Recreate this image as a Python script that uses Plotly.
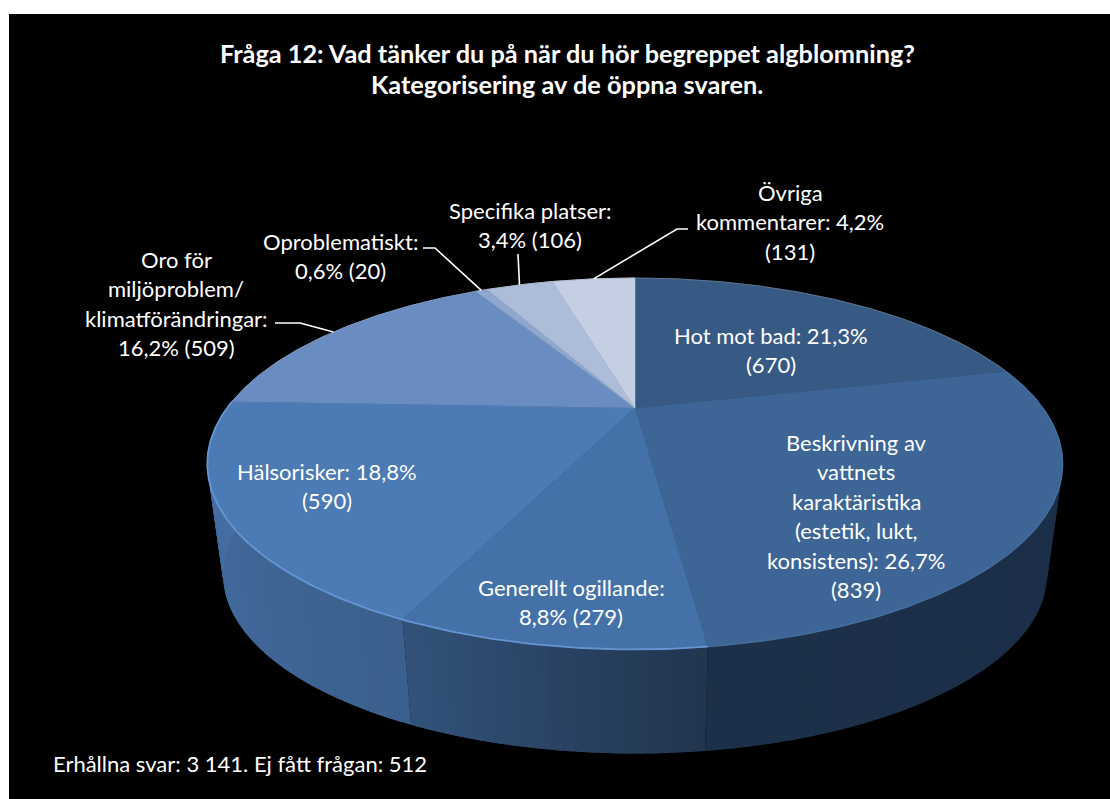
import numpy as np
import plotly.graph_objects as go

# ---------- data ----------
categories = ["Hot mot bad", "Beskrivning av vattnets karaktäristika", "Generellt ogillande",
              "Hälsorisker", "Oro för miljöproblem/klimatförändringar", "Oproblematiskt",
              "Specifika platser", "Övriga kommentarer"]
percent = [21.3, 26.7, 8.8, 18.8, 16.2, 0.6, 3.4, 4.2]
counts = [670, 839, 279, 590, 509, 20, 106, 131]

title_lines = ["Fråga 12: Vad tänker du på när du hör begreppet algblomning?",
               "Kategorisering av de öppna svaren."]
footer = "Erhållna svar: 3 141. Ej fått frågan: 512"
label_lines = [
    ["Hot mot bad: 21,3%", "(670)"],
    ["Beskrivning av", "vattnets", "karaktäristika", "(estetik, lukt,", "konsistens): 26,7%", "(839)"],
    ["Generellt ogillande:", "8,8% (279)"],
    ["Hälsorisker: 18,8%", "(590)"],
    ["Oro för", "miljöproblem/", "klimatförändringar:", "16,2% (509)"],
    ["Oproblematiskt:", "0,6% (20)"],
    ["Specifika platser:", "3,4% (106)"],
    ["Övriga", "kommentarer: 4,2%", "(131)"],
]

# ---------- styles / layout ----------
top_colors = ["#375a85", "#3d6596", "#4472a8", "#4b7ab5", "#6a8dc1", "#8fa6cf", "#adbdd9", "#c5cfe3"]
side_from = ["#1b2d47", "#1b2d47", "#223650", "#3b608d", "#4670a6", "#4670a6", "#4670a6", "#4670a6"]
side_to = ["#1b2d47", "#1d3049", "#32527a", "#4670a6", "#4670a6", "#4670a6", "#4670a6", "#4670a6"]
rim_colors = ["#5f7590", "#47709f", "#6596d3", "#6596d3", "#7f97bd", "#9aa8c4", "#aab6cc", "#b5bfd2"]
rim_widths = [1.0, 1.2, 1.8, 1.8, 1.0, 1.0, 1.0, 1.0]
label_anchor = [(771, 335), (856, 442), (571, 587), (327, 471), (176, 259), (340, 241), (530, 210), (790, 192)]
LINE_STEP = 29.5
leader_elbows = {4: [(275, 323), (300, 323)], 5: [(423, 248), (435, 248)],
                 6: [(518, 254), (518, 254)], 7: [(688, 229), (677, 229)]}
CX, CY, A, B, K = 635, 408, 408, 169, 0.30
BOTTOM_SCALE, BOTTOM_CY = 0.963, 521
FONT = "Lato, Carlito, Calibri, sans-serif"
LABEL_SIZE = 22
TITLE_SIZE = 25.3
OVERLAP = np.radians(1.0)


def project(theta, scale=1.0, cy=CY):
    u, v = np.sin(theta), np.cos(theta)
    w = 1 + K * v
    return CX + scale * A * u / w, cy - scale * B * v / w


def mix(c1, c2, t):
    a = [int(c1[i:i + 2], 16) for i in (1, 3, 5)]
    b = [int(c2[i:i + 2], 16) for i in (1, 3, 5)]
    return "#" + "".join(f"{round(p + (q - p) * t):02x}" for p, q in zip(a, b))


edges = np.concatenate([[0], np.cumsum(percent)]) / sum(percent) * 2 * np.pi

fig = go.Figure()

# side wall, painted as thin strips per slice (only the front half can show)
for i in range(len(percent)):
    t0, t1 = max(edges[i], np.pi / 2), min(edges[i + 1], 3 * np.pi / 2)
    if t1 <= t0:
        continue
    n = max(2, int((t1 - t0) / np.radians(1.2)))
    steps = np.linspace(t0, t1, n + 1)
    for j in range(n):
        end = min(steps[j + 1] + OVERLAP, t1)
        tt = np.linspace(steps[j], end, 3)
        xt, yt = project(tt)
        xb, yb = project(tt[::-1], BOTTOM_SCALE, BOTTOM_CY)
        col = mix(side_from[i], side_to[i], j / max(1, n - 1))
        fig.add_trace(go.Scatter(x=np.r_[xt, xb, xt[0]], y=np.r_[yt, yb, yt[0]], mode="none", fill="toself",
                                 fillcolor=col, hoverinfo="skip", showlegend=False))

# top face
for i, name in enumerate(categories):
    tt = np.linspace(edges[i], edges[i + 1], max(4, int(percent[i] * 6)))
    x, y = project(tt)
    fig.add_trace(go.Scatter(x=np.r_[CX, x, CX], y=np.r_[CY, y, CY], mode="lines", fill="toself",
                             fillcolor=top_colors[i], line=dict(color=top_colors[i], width=0.5),
                             name=name, text=f"{name}: {percent[i]}% ({counts[i]})", hoverinfo="text",
                             showlegend=False))

# bevelled rim
for i in range(len(percent)):
    tt = np.linspace(edges[i], edges[i + 1], max(4, int(percent[i] * 6)))
    x, y = project(tt)
    fig.add_trace(go.Scatter(x=x, y=y, mode="lines", line=dict(color=rim_colors[i], width=rim_widths[i]),
                             hoverinfo="skip", showlegend=False))

# leader lines: from the rim at each slice's middle to the label elbow
for i, elbow in leader_elbows.items():
    x, y = project((edges[i] + edges[i + 1]) / 2)
    fig.add_trace(go.Scatter(x=[p[0] for p in elbow] + [x], y=[p[1] for p in elbow] + [y], mode="lines",
                             line=dict(color="white", width=1.6), hoverinfo="skip", showlegend=False))

ann = []
def put(text, x, y, size=LABEL_SIZE, bold=False, anchor="center"):
    ann.append(dict(text=f"<b>{text}</b>" if bold else text, x=x, y=y, xref="x", yref="y", showarrow=False,
                    xanchor=anchor, yanchor="middle", font=dict(family=FONT, size=size, color="white")))

for (x, y), lines in zip(label_anchor, label_lines):
    for k, line in enumerate(lines):
        put(line, x, y + k * LINE_STEP)
put(title_lines[0], 567, 52.5, size=TITLE_SIZE, bold=True)
put(title_lines[1], 567, 83.5, size=TITLE_SIZE, bold=True)
put(footer, 51, 763, anchor="left")

fig.update_layout(
    width=1110, height=799, margin=dict(l=0, r=0, t=0, b=0), paper_bgcolor="white", plot_bgcolor="white",
    xaxis=dict(range=[0, 1110], visible=False, fixedrange=True),
    yaxis=dict(range=[799, 0], visible=False, fixedrange=True),
    shapes=[dict(type="rect", xref="x", yref="y", x0=9, x1=1110, y0=14, y1=799, layer="below",
                 fillcolor="black", line=dict(width=0))],
    annotations=ann, showlegend=False,
)
fig.write_html("out.html", config={"displayModeBar": False},
               post_script="document.body.style.margin='0';document.documentElement.style.overflow='hidden';")
